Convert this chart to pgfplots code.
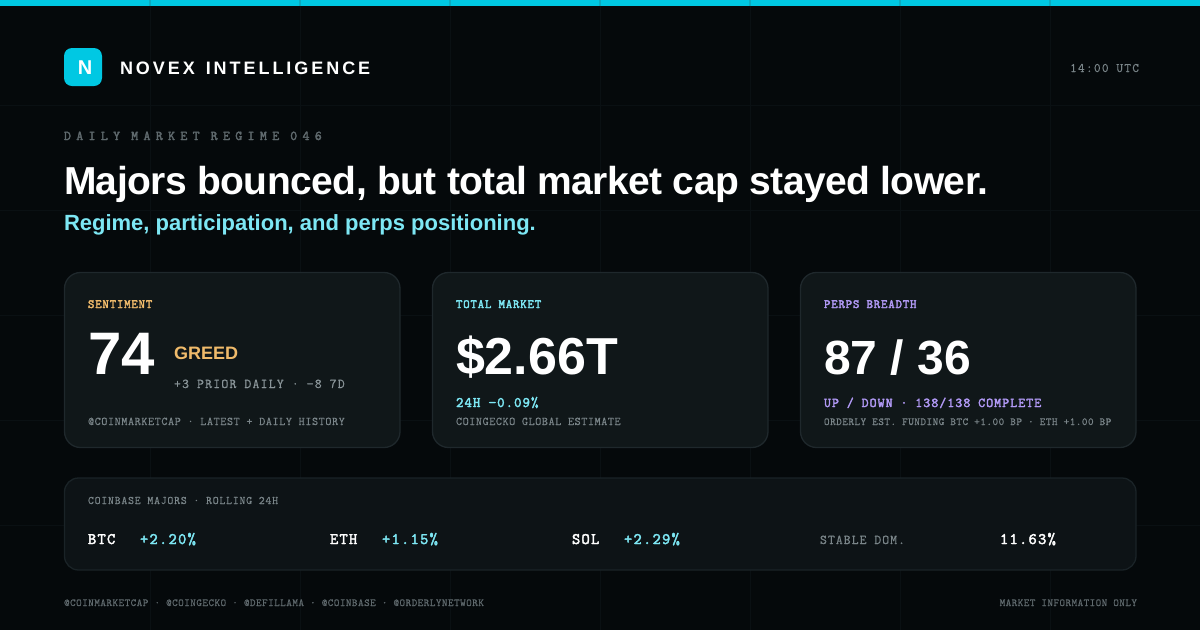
\documentclass[border=0pt]{standalone}
\usepackage{pgfplots}
\pgfplotsset{compat=1.18}
\usepackage{fontspec}
\setmainfont{Liberation Sans}
\definecolor{bgc}{HTML}{05090B}
\definecolor{gridc}{HTML}{0A1013}
\definecolor{barc}{HTML}{00C8E3}
\definecolor{seamc}{HTML}{0AACC3}
\definecolor{cardf}{HTML}{101719}
\definecolor{cards}{HTML}{1F282C}
\definecolor{panelf}{HTML}{0D1316}
\definecolor{panels}{HTML}{1A2327}
\definecolor{cyanl}{HTML}{7DE7F4}
\definecolor{orangec}{HTML}{F0BB6B}
\definecolor{purplec}{HTML}{B199F5}
\definecolor{greya}{HTML}{8A9599}
\definecolor{greyb}{HTML}{7A8589}
\definecolor{greyc}{HTML}{5F696D}
% #1 size, #2 letterspace percent, #3 text
\newcommand\SB[3]{{\fontspec{Liberation Sans}[LetterSpace=#2]\fontsize{#1}{#1}\selectfont\bfseries #3}}
% mono: #1 size, #2 advance per character, #3 fake bold, #4 text
\newcommand\MX[4]{{\pgfmathsetmacro\ls{(#2-0.525*#1)*10}%
  \edef\x{\noexpand\fontspec{Latin Modern Mono}[LetterSpace=\ls,FakeBold=#3]}\x
  \fontsize{#1}{#1}\selectfont\spaceskip=#2pt\relax #4}}
\newcommand\MO[3]{\MX{#1}{#2}{0.4}{#3}}
\newcommand\MB[3]{\MX{#1}{#2}{2.6}{#3}}
\begin{document}
\begin{tikzpicture}[txt/.style={anchor=base west,inner sep=0pt,outer sep=0pt},
  txr/.style={anchor=base east,inner sep=0pt,outer sep=0pt}]
\begin{axis}[name=a,
  scale only axis, width=1200pt, height=630pt,
  xmin=0, xmax=1200, ymin=0, ymax=630, y dir=reverse,
  axis line style={draw=none}, tick style={draw=none},
  xtick={150,300,450,600,750,900,1050}, ytick={105,210,315,420,525},
  xticklabels={}, yticklabels={},
  grid=major, grid style={gridc,line width=1pt},
  axis background/.style={fill=bgc},
  axis on top=false, clip=false, unbounded coords=jump]
% top bar
\addplot[fill=barc,draw=none] coordinates {(0,0)(1200,0)(1200,6)(0,6)} --cycle;
\addplot[draw=seamc,line width=1.5pt] coordinates {(150,0)(150,6)(225,nan)(300,0)(300,6)(375,nan)(450,0)(450,6)(525,nan)(600,0)(600,6)(675,nan)(750,0)(750,6)(825,nan)(900,0)(900,6)(975,nan)(1050,0)(1050,6)};
% logo
\addplot[fill=barc,draw=none,rounded corners=8pt] coordinates {(64,48)(102,48)(102,86)(64,86)} --cycle;
% cards
\addplot[fill=cardf,draw=cards,line width=1.3pt,rounded corners=16pt] coordinates {(64.5,272.5)(400,272.5)(400,447.5)(64.5,447.5)} --cycle;
\addplot[fill=cardf,draw=cards,line width=1.3pt,rounded corners=16pt] coordinates {(432.5,272.5)(768,272.5)(768,447.5)(432.5,447.5)} --cycle;
\addplot[fill=cardf,draw=cards,line width=1.3pt,rounded corners=16pt] coordinates {(800.5,272.5)(1136,272.5)(1136,447.5)(800.5,447.5)} --cycle;
\addplot[fill=panelf,draw=panels,line width=1.3pt,rounded corners=14pt] coordinates {(64.5,478)(1136,478)(1136,570)(64.5,570)} --cycle;
% header
\node[anchor=base,inner sep=0pt] at (axis cs:85,74) {\color{white}\SB{20}{0}{N}};
\node[txt] at (axis cs:120,74.5) {\color{white}\SB{18}{16.4}{NOVEX\hspace{3pt} INTELLIGENCE}};
\node[txr] at (axis cs:1139,72) {\color{greyb}\MO{13}{7.8}{14:00 UTC}};
\node[txt] at (axis cs:64,140) {\color{greyc}\MB{13.5}{11.05}{DAILY MARKET REGIME 046}};
\node[txt] at (axis cs:64,194) {\color{white}\SB{39}{-1.38}{Majors bounced, but total market cap stayed lower.}};
\node[txt] at (axis cs:64,230) {\color{cyanl}\SB{22}{0}{Regime, participation, and perps positioning.}};
% card 1
\node[txt] at (axis cs:88,308) {\color{orangec}\MB{12.5}{7.2}{SENTIMENT}};
\node[txt] at (axis cs:88,374) {\color{white}\SB{60}{0}{74}};
\node[txt] at (axis cs:174,359) {\color{orangec}\SB{18}{0}{GREED}};
\node[txt] at (axis cs:174,388) {\color{greya}\MO{13.5}{7.95}{+3 PRIOR DAILY · −8 7D}};
\node[txt] at (axis cs:88,425) {\color{greyb}\MO{11.8}{6.7}{@COINMARKETCAP · LATEST + DAILY HISTORY}};
% card 2
\node[txt] at (axis cs:456,308) {\color{cyanl}\MB{12.5}{7.2}{TOTAL MARKET}};
\node[txt] at (axis cs:456,374) {\color{white}\SB{52}{0}{\$2.66T}};
\node[txt] at (axis cs:456,407) {\color{cyanl}\MB{14.5}{8.3}{24H −0.09\%}};
\node[txt] at (axis cs:456,425) {\color{greyb}\MO{11.8}{6.68}{COINGECKO GLOBAL ESTIMATE}};
% card 3
\node[txt] at (axis cs:824,308) {\color{purplec}\MB{12.5}{7.2}{PERPS BREADTH}};
\node[txt] at (axis cs:824,374) {\color{white}\SB{48}{0}{87 / 36}};
\node[txt] at (axis cs:824,407) {\color{purplec}\MB{13.5}{7.87}{UP / DOWN · 138/138 COMPLETE}};
\node[txt] at (axis cs:824,425) {\color{greyb}\MO{10.7}{6.06}{ORDERLY EST. FUNDING BTC +1.00 BP · ETH +1.00 BP}};
% panel
\node[txt] at (axis cs:88,504) {\color{greyb}\MO{11.5}{6.7}{COINBASE MAJORS · ROLLING 24H}};
\node[txt] at (axis cs:88,544) {\color{white}\MB{16}{9.2}{BTC}};
\node[txt] at (axis cs:140,544) {\color{cyanl}\MB{16}{9.2}{+2.20\%}};
\node[txt] at (axis cs:330,544) {\color{white}\MB{16}{9.2}{ETH}};
\node[txt] at (axis cs:382,544) {\color{cyanl}\MB{16}{9.2}{+1.15\%}};
\node[txt] at (axis cs:572,544) {\color{white}\MB{16}{9.2}{SOL}};
\node[txt] at (axis cs:624,544) {\color{cyanl}\MB{16}{9.2}{+2.29\%}};
\node[txt] at (axis cs:820,544) {\color{greyb}\MO{13.5}{7.8}{STABLE DOM.}};
\node[txt] at (axis cs:1000,544) {\color{white}\MB{16}{9.2}{11.63\%}};
% footer
\node[txt] at (axis cs:64,606) {\color{greyc}\MO{10.7}{6.03}{@COINMARKETCAP · @COINGECKO · @DEFILLAMA · @COINBASE · @ORDERLYNETWORK}};
\node[txr] at (axis cs:1137,606) {\color{greyc}\MO{10.7}{6.0}{MARKET INFORMATION ONLY}};
\end{axis}
\pgfresetboundingbox
\path[use as bounding box] (a.south west) rectangle (a.north east);
\end{tikzpicture}
\end{document}
